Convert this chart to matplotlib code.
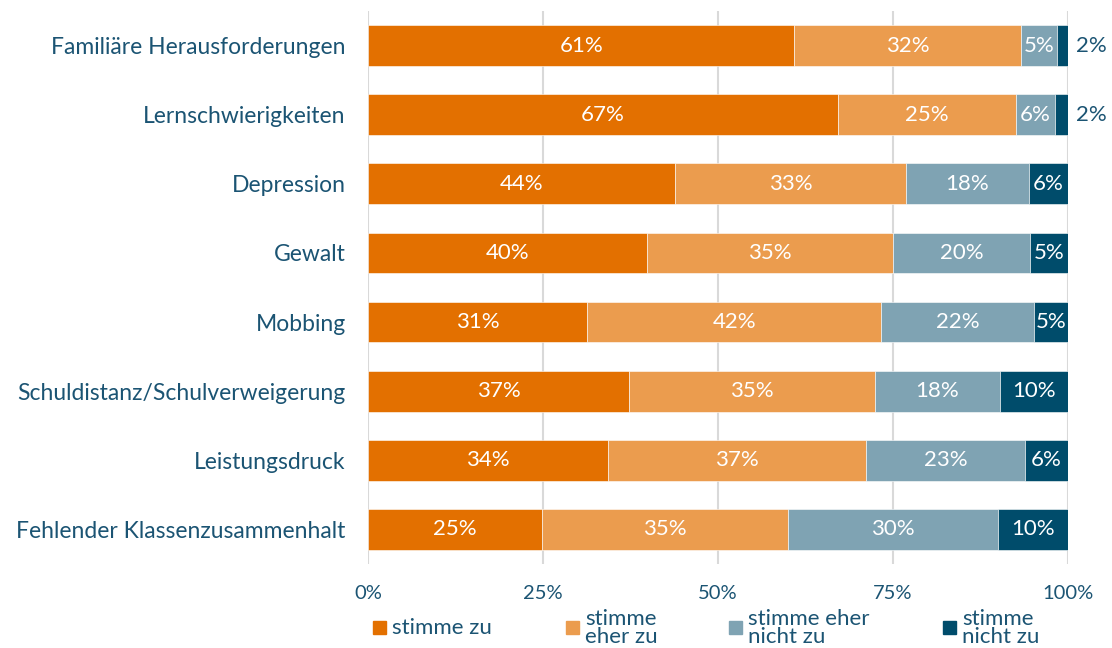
import matplotlib.pyplot as plt
from matplotlib.patches import Rectangle

plt.rcParams['font.family'] = ['Lato', 'DejaVu Sans']

categories = [
    "Familiäre Herausforderungen",
    "Lernschwierigkeiten",
    "Depression",
    "Gewalt",
    "Mobbing",
    "Schuldistanz/Schulverweigerung",
    "Leistungsdruck",
    "Fehlender Klassenzusammenhalt",
]
series_names = ["stimme zu", "stimme\neher zu", "stimme eher\nnicht zu", "stimme\nnicht zu"]
stimme_zu = [60.9, 67.1, 43.9, 39.9, 31.3, 37.3, 34.3, 24.9]
eher_zu = [32.4, 25.4, 32.9, 35.1, 42.0, 35.1, 36.9, 35.1]
eher_nicht_zu = [5.1, 5.7, 17.6, 19.6, 21.9, 17.9, 22.6, 30.0]
nicht_zu = [1.6, 1.8, 5.6, 5.4, 4.8, 9.7, 6.2, 10.0]
series = [stimme_zu, eher_zu, eher_nicht_zu, nicht_zu]

colors = ["#E37000", "#EB9C4E", "#7FA3B3", "#004C6B"]
text_color = "#1B5473"

fig = plt.figure(figsize=(11.12, 6.48), dpi=100)
ax = fig.add_axes([368 / 1112, 84 / 648, 700 / 1112, 553 / 648])

y = list(range(len(categories)))
left = [0.0] * len(categories)
for vals, col in zip(series, colors):
    ax.barh(y, vals, left=left, height=0.59, color=col, edgecolor="white",
            linewidth=0.4, zorder=2)
    for i, v in enumerate(vals):
        label = f"{round(v):.0f}%"
        if v >= 4:
            ax.text(left[i] + v / 2, i, label, ha="center", va="center",
                    color="white", fontsize=16, zorder=3)
        else:
            ax.text(101.2, i, label, ha="left", va="center",
                    color=text_color, fontsize=16, clip_on=False)
    left = [l + v for l, v in zip(left, vals)]

ax.set_xlim(0, 100)
ax.set_ylim(7.5, -0.5)
ax.set_yticks(y)
ax.set_yticklabels(categories, fontsize=16.5, color=text_color)
ax.set_xticks([0, 25, 50, 75, 100])
ax.set_xticklabels(["0%", "25%", "50%", "75%", "100%"], fontsize=14.5, color=text_color)
ax.tick_params(axis="both", length=0)
ax.tick_params(axis="y", pad=16)
ax.tick_params(axis="x", pad=15)
for s in ax.spines.values():
    s.set_visible(False)
ax.grid(axis="x", color="#D9D9D9", linewidth=1.5, zorder=0)
ax.set_axisbelow(True)

# legend drawn by hand below the axis
leg_x = [373, 566, 729, 943]
for name, col, x0 in zip(series_names, colors, leg_x):
    fig.add_artist(Rectangle((x0 / 1112, (648 - 634) / 648), 13 / 1112, 13 / 648,
                             transform=fig.transFigure, color=col))
    fig.text((x0 + 19) / 1112, (648 - 628) / 648, name, ha="left", va="center",
             fontsize=16, color=text_color, linespacing=0.9)

fig.savefig("out.png", dpi=100)
